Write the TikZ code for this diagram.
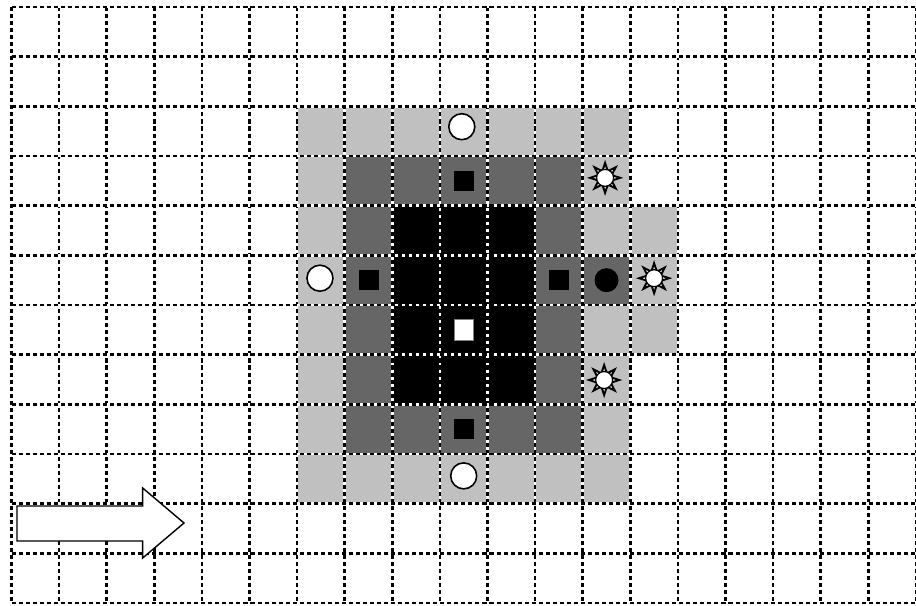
\documentclass[tikz,border=0pt]{standalone}
\usetikzlibrary{shapes.geometric}
\definecolor{lightcell}{HTML}{C0C0C0}
\definecolor{darkcell}{HTML}{666666}

\begin{document}
\begin{tikzpicture}[
    x=0.952cm,
    y=-0.9934cm,
    gridback/.style={white, line width=1.4pt},
    gridline/.style={black, line width=1.4pt, dash pattern=on 2.3pt off 1.7pt},
    hole/.style={
        circle,
        draw,
        fill=white,
        line width=0.9pt,
        minimum size=0.52cm,
        inner sep=0pt
    },
    dot/.style={circle, fill=black, minimum size=0.48cm, inner sep=0pt},
    block/.style={rectangle, fill=black, minimum size=0.4cm, inner sep=0pt},
    gap/.style={
        rectangle,
        fill=white,
        draw=gray,
        line width=0.3pt,
        minimum width=0.38cm,
        minimum height=0.42cm,
        inner sep=0pt
    },
    spark/.style={
        star,
        star points=8,
        star point ratio=2.1,
        draw,
        fill=white,
        line width=1.1pt,
        minimum size=0.6cm,
        inner sep=0pt
    },
    sparkcore/.style={
        circle,
        draw,
        fill=white,
        line width=0.7pt,
        minimum size=0.34cm,
        inner sep=0pt
    }
]

\useasboundingbox (-0.2416,-0.1409) rectangle (19.002,12.04);

% --------------------------------------------------
% Shaded cells
% --------------------------------------------------

\fill[lightcell] (6,2) rectangle (13,10);
\fill[lightcell] (13,4) rectangle (14,7);

\fill[darkcell] (7,3) rectangle (12,9);
\fill[darkcell] (12,5) rectangle (13,6);

\fill[black] (8,4) rectangle (11,8);

% --------------------------------------------------
% Grid
% --------------------------------------------------

\foreach \i in {0,...,19}
{
    \draw[gridback] (\i,0) -- (\i,12);
    \draw[gridline] (\i,0) -- (\i,12);
}

\foreach \j in {0,...,12}
{
    \draw[gridback] (0,\j) -- (19,\j);
    \draw[gridline] (0,\j) -- (19,\j);
}

% --------------------------------------------------
% Markers
% --------------------------------------------------

\node[hole] (holetop) at (9.46,2.41) {};
\node[hole] (holebottom) at (9.50,9.44) {};
\node[hole] (holeleft) at (6.48,5.46) {};

\node[block] (blocktop) at (9.5,3.5) {};
\node[block] (blockbottom) at (9.5,8.5) {};
\node[block] (blockleft) at (7.5,5.5) {};
\node[block] (blockright) at (11.5,5.5) {};

\node[gap] (gapcentre) at (9.5,6.5) {};

\node[dot] (dotright) at (12.5,5.5) {};

\node[spark] (sparktop) at (12.47,3.44) {};
\node[sparkcore] at (sparktop) {};

\node[spark] (sparkright) at (13.5,5.46) {};
\node[sparkcore] at (sparkright) {};

\node[spark] (sparkbottom) at (12.45,7.51) {};
\node[sparkcore] at (sparkbottom) {};

% --------------------------------------------------
% Direction arrow
% --------------------------------------------------

\draw[line width=0.8pt, fill=white]
    (0.1155,10.046) -- (2.756,10.046) -- (2.756,9.684) -- (3.624,10.389)
    -- (2.756,11.093) -- (2.756,10.751) -- (0.1155,10.751) -- cycle;

\end{tikzpicture}
\end{document}
